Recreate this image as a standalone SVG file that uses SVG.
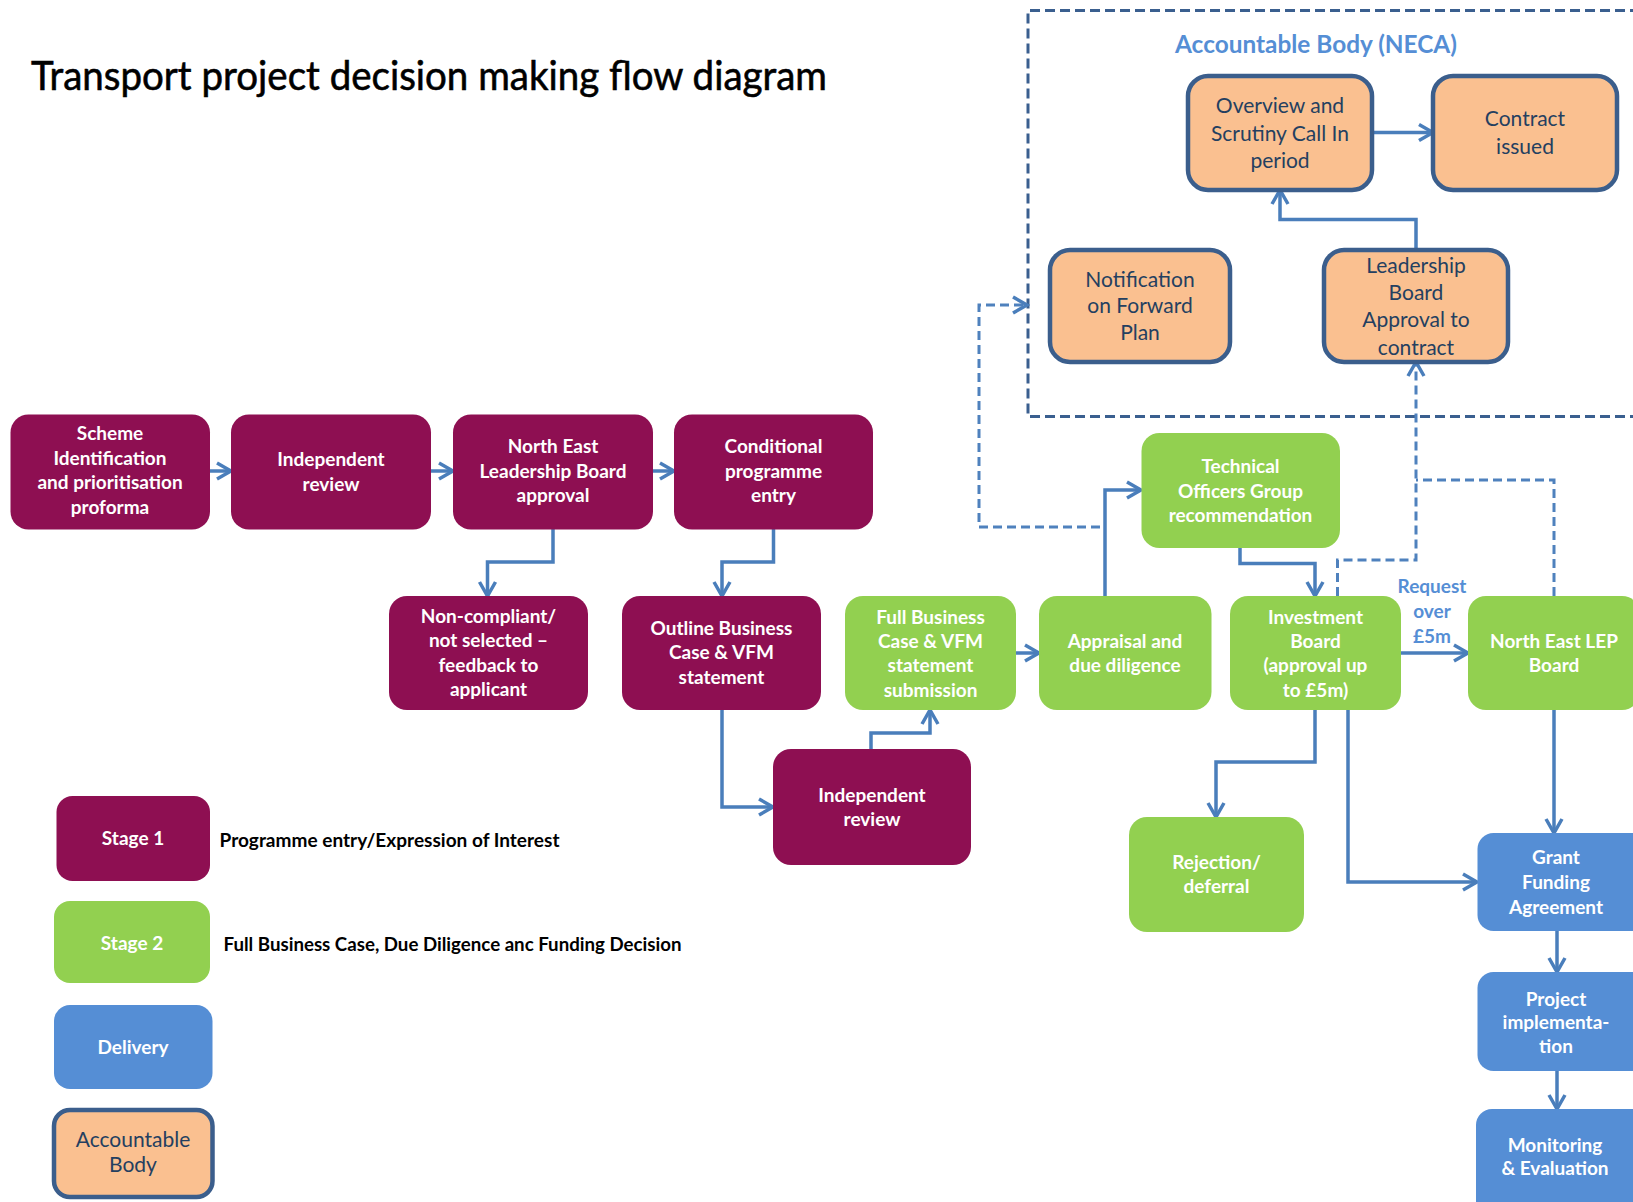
<svg xmlns="http://www.w3.org/2000/svg" width="1633" height="1202" viewBox="0 0 1633 1202">
  <style>
    .s1 { fill: #8e0f52; }
    .s2 { fill: #92d050; }
    .dl { fill: #558ed5; }
    .ab { fill: #fac090; stroke: #3b5e8c; stroke-width: 4.5; }
    .lbl { font-family: Lato, "Liberation Sans", sans-serif; font-weight: bold; font-size: 19px; fill: #ffffff; text-anchor: middle; }
    .albl { font-family: Lato, "Liberation Sans", sans-serif; font-size: 21px; fill: #243f60; text-anchor: middle; }
    .key { font-family: Lato, "Liberation Sans", sans-serif; font-weight: bold; font-size: 19px; fill: #000000; }
    .blue { font-family: Lato, "Liberation Sans", sans-serif; font-weight: bold; fill: #558ed5; text-anchor: middle; }
    .flow { fill: none; stroke: #4a7ebb; stroke-width: 3.5; }
    .dash { fill: none; stroke: #4f81bd; stroke-width: 3; stroke-dasharray: 9 5; }
    .frame { fill: none; stroke: #3a5f8f; stroke-width: 3; stroke-dasharray: 10 5; }
  </style>
  <defs>
    <marker id="chev" markerUnits="userSpaceOnUse" viewBox="-3 -3 20 22" markerWidth="20" markerHeight="22" refX="14" refY="8" orient="auto">
      <path d="M0,0 L14,8 L0,16" fill="none" stroke="#4a7ebb" stroke-width="3.5"/>
    </marker>
  </defs>

  <rect width="1633" height="1202" fill="#ffffff"/>

  <!-- heading -->
  <text x="31" y="90" font-family="Lato, 'Liberation Sans', sans-serif" font-size="41" fill="#000000" stroke="#000000" stroke-width="0.6" textLength="796" lengthAdjust="spacingAndGlyphs">Transport project decision making flow diagram</text>

  <!-- accountable body frame -->
  <g id="neca-frame">
    <path class="frame" d="M1700,10.5 H1028 V416.5 H1700"/>
    <text class="blue" x="1316" y="53" font-size="24" textLength="282" lengthAdjust="spacingAndGlyphs">Accountable Body (NECA)</text>
  </g>

  <!-- connectors -->
  <g id="connectors">
    <path class="flow" marker-end="url(#chev)" d="M210,471 H231"/>
    <path class="flow" marker-end="url(#chev)" d="M431,471 H453"/>
    <path class="flow" marker-end="url(#chev)" d="M653,471 H674"/>
    <path class="flow" marker-end="url(#chev)" d="M553,529 V562 H487.5 V596"/>
    <path class="flow" marker-end="url(#chev)" d="M773.5,529 V562 H722 V596"/>
    <path class="flow" marker-end="url(#chev)" d="M722,710 V807 H773"/>
    <path class="flow" marker-end="url(#chev)" d="M871,749 V733 H930 V710"/>
    <path class="flow" marker-end="url(#chev)" d="M1016,653 H1039"/>
    <path class="flow" marker-end="url(#chev)" d="M1105,596 V490 H1141"/>
    <path class="flow" marker-end="url(#chev)" d="M1240,548 V563.5 H1315 V596"/>
    <path class="flow" marker-end="url(#chev)" d="M1401,653 H1468"/>
    <path class="flow" marker-end="url(#chev)" d="M1315,710 V762 H1216 V817"/>
    <path class="flow" marker-end="url(#chev)" d="M1348,710 V882 H1477"/>
    <path class="flow" marker-end="url(#chev)" d="M1554,710 V833"/>
    <path class="flow" marker-end="url(#chev)" d="M1557,931 V972"/>
    <path class="flow" marker-end="url(#chev)" d="M1557,1071 V1109"/>
    <path class="flow" marker-end="url(#chev)" d="M1372,132.5 H1433"/>
    <path class="flow" marker-end="url(#chev)" d="M1416,250 V219.5 H1280 V190"/>
    <path class="dash" marker-end="url(#chev)" d="M1337.5,596 V560 H1416 V362"/>
    <path class="dash" d="M1554,596 V480 H1416"/>
    <path class="dash" marker-end="url(#chev)" d="M1100,527 H979 V305 H1027"/>
    <text class="blue" x="1432" y="593" font-size="19">Request</text>
    <text class="blue" x="1432" y="618" font-size="19">over</text>
    <text class="blue" x="1432" y="643" font-size="19">£5m</text>
  </g>

  <!-- stage 1 -->
  <g id="scheme-identification">
    <rect class="s1" x="10.5" y="414.5" width="199.5" height="115" rx="18"/>
    <text class="lbl" x="110" y="440">Scheme</text>
    <text class="lbl" x="110" y="464.5">Identification</text>
    <text class="lbl" x="110" y="489">and prioritisation</text>
    <text class="lbl" x="110" y="513.5">proforma</text>
  </g>
  <g id="independent-review-1">
    <rect class="s1" x="231" y="414.5" width="200" height="115" rx="18"/>
    <text class="lbl" x="331" y="466">Independent</text>
    <text class="lbl" x="331" y="490.5">review</text>
  </g>
  <g id="ne-leadership-approval">
    <rect class="s1" x="453" y="414.5" width="200" height="115" rx="18"/>
    <text class="lbl" x="553" y="453">North East</text>
    <text class="lbl" x="553" y="477.5">Leadership Board</text>
    <text class="lbl" x="553" y="502">approval</text>
  </g>
  <g id="conditional-entry">
    <rect class="s1" x="674" y="414.5" width="199" height="115" rx="18"/>
    <text class="lbl" x="773.5" y="453">Conditional</text>
    <text class="lbl" x="773.5" y="477.5">programme</text>
    <text class="lbl" x="773.5" y="502">entry</text>
  </g>
  <g id="non-compliant">
    <rect class="s1" x="389" y="596" width="199" height="114" rx="18"/>
    <text class="lbl" x="488.5" y="623">Non-compliant/</text>
    <text class="lbl" x="488.5" y="647">not selected –</text>
    <text class="lbl" x="488.5" y="671.5">feedback to</text>
    <text class="lbl" x="488.5" y="696">applicant</text>
  </g>
  <g id="outline-business-case">
    <rect class="s1" x="622" y="596" width="199" height="114" rx="18"/>
    <text class="lbl" x="721.5" y="635">Outline Business</text>
    <text class="lbl" x="721.5" y="659">Case &amp; VFM</text>
    <text class="lbl" x="721.5" y="684">statement</text>
  </g>
  <g id="independent-review-2">
    <rect class="s1" x="773" y="749" width="198" height="116" rx="18"/>
    <text class="lbl" x="872" y="801.5">Independent</text>
    <text class="lbl" x="872" y="825.5">review</text>
  </g>

  <!-- stage 2 -->
  <g id="full-business-case">
    <rect class="s2" x="845" y="596" width="171" height="114" rx="18"/>
    <text class="lbl" x="930.5" y="623.5">Full Business</text>
    <text class="lbl" x="930.5" y="647.5">Case &amp; VFM</text>
    <text class="lbl" x="930.5" y="672">statement</text>
    <text class="lbl" x="930.5" y="696.5">submission</text>
  </g>
  <g id="appraisal">
    <rect class="s2" x="1039" y="596" width="172.5" height="114" rx="18"/>
    <text class="lbl" x="1125" y="647.5">Appraisal and</text>
    <text class="lbl" x="1125" y="671.5">due diligence</text>
  </g>
  <g id="technical-officers">
    <rect class="s2" x="1141.5" y="433" width="198.5" height="115" rx="18"/>
    <text class="lbl" x="1240.5" y="473">Technical</text>
    <text class="lbl" x="1240.5" y="497.5">Officers Group</text>
    <text class="lbl" x="1240.5" y="522">recommendation</text>
  </g>
  <g id="investment-board">
    <rect class="s2" x="1230" y="596" width="171" height="114" rx="18"/>
    <text class="lbl" x="1315.5" y="623.5">Investment</text>
    <text class="lbl" x="1315.5" y="647.5">Board</text>
    <text class="lbl" x="1315.5" y="672">(approval up</text>
    <text class="lbl" x="1315.5" y="696.5">to £5m)</text>
  </g>
  <g id="lep-board">
    <rect class="s2" x="1468" y="596" width="172" height="114" rx="18"/>
    <text class="lbl" x="1554" y="647.5">North East LEP</text>
    <text class="lbl" x="1554" y="671.5">Board</text>
  </g>
  <g id="rejection">
    <rect class="s2" x="1129" y="817" width="175" height="115" rx="18"/>
    <text class="lbl" x="1216.5" y="869">Rejection/</text>
    <text class="lbl" x="1216.5" y="892.5">deferral</text>
  </g>

  <!-- delivery -->
  <g id="grant-funding">
    <rect class="dl" x="1477.5" y="833" width="172" height="98" rx="16"/>
    <text class="lbl" x="1556" y="864">Grant</text>
    <text class="lbl" x="1556" y="888.5">Funding</text>
    <text class="lbl" x="1556" y="913.5">Agreement</text>
  </g>
  <g id="project-implementation">
    <rect class="dl" x="1477.5" y="972" width="172" height="99" rx="16"/>
    <text class="lbl" x="1556" y="1005.5">Project</text>
    <text class="lbl" x="1556" y="1029">implementa-</text>
    <text class="lbl" x="1556" y="1053">tion</text>
  </g>
  <g id="monitoring">
    <rect class="dl" x="1476" y="1109" width="172" height="120" rx="16"/>
    <text class="lbl" x="1555" y="1152">Monitoring</text>
    <text class="lbl" x="1555" y="1175">&amp; Evaluation</text>
  </g>

  <!-- accountable body -->
  <g id="overview-scrutiny">
    <rect class="ab" x="1188" y="76" width="184" height="114" rx="20"/>
    <text class="albl" x="1280" y="113">Overview and</text>
    <text class="albl" x="1280" y="140.5">Scrutiny Call In</text>
    <text class="albl" x="1280" y="167.5">period</text>
  </g>
  <g id="contract-issued">
    <rect class="ab" x="1433" y="76" width="184" height="114" rx="20"/>
    <text class="albl" x="1525" y="126">Contract</text>
    <text class="albl" x="1525" y="153.5">issued</text>
  </g>
  <g id="forward-plan">
    <rect class="ab" x="1050" y="250" width="180" height="112" rx="20"/>
    <text class="albl" x="1140" y="286.5">Notification</text>
    <text class="albl" x="1140" y="313">on Forward</text>
    <text class="albl" x="1140" y="340">Plan</text>
  </g>
  <g id="leadership-contract">
    <rect class="ab" x="1324" y="250" width="184" height="112" rx="20"/>
    <text class="albl" x="1416" y="273">Leadership</text>
    <text class="albl" x="1416" y="300">Board</text>
    <text class="albl" x="1416" y="327">Approval to</text>
    <text class="albl" x="1416" y="355">contract</text>
  </g>

  <!-- key -->
  <g id="key-stage-1">
    <rect class="s1" x="56.5" y="796" width="153.5" height="85" rx="16"/>
    <text class="lbl" x="133" y="845">Stage 1</text>
    <text class="key" x="219.5" y="847" textLength="340" lengthAdjust="spacingAndGlyphs">Programme entry/Expression of Interest</text>
  </g>
  <g id="key-stage-2">
    <rect class="s2" x="54" y="901" width="156" height="82" rx="16"/>
    <text class="lbl" x="132" y="950">Stage 2</text>
    <text class="key" x="223.5" y="951" textLength="458" lengthAdjust="spacingAndGlyphs">Full Business Case, Due Diligence  anc Funding Decision</text>
  </g>
  <g id="key-delivery">
    <rect class="dl" x="54" y="1005" width="158.5" height="84" rx="16"/>
    <text class="lbl" x="133" y="1053.5">Delivery</text>
  </g>
  <g id="key-accountable">
    <rect class="ab" x="54" y="1110" width="158.5" height="87" rx="16"/>
    <text class="albl" x="133" y="1147" font-size="18">Accountable</text>
    <text class="albl" x="133" y="1171.5" font-size="18">Body</text>
  </g>
</svg>
